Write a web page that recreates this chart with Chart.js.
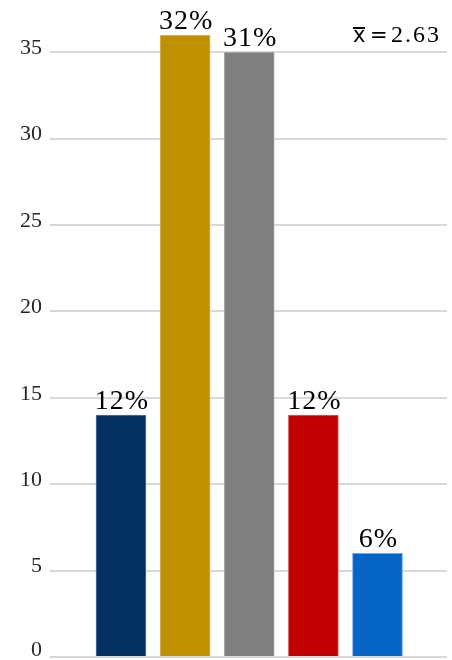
<!DOCTYPE html>
<html>
<head>
<meta charset="utf-8">
<script src="https://cdn.jsdelivr.net/npm/chart.js@4"></script>
<style>
  html, body { margin: 0; padding: 0; background: #fff; }
  canvas { display: block; }
</style>
</head>
<body>
<canvas id="ratingChart" width="452" height="660"></canvas>
<script>
// rating scale 1..5, response counts and share labels
const ratings = [1, 2, 3, 4, 5];
const counts = [14, 36, 35, 14, 6];
const shareLabels = ["12%", "32%", "31%", "12%", "6%"];
const barColors = ["#03305F", "#BF9000", "#7F7F7F", "#C00000", "#0565C4"];
const barEdges = ["#5a7aa0", "#d9b860", "#a8a8a8", "#e06060", "#6aa6e6"];
const meanText = "2.63";

const serif = "'Liberation Serif', 'DejaVu Serif', serif";

// y tick labels sit a little above their grid line, the 0 one kept inside the canvas
const tickLabelPlugin = {
  id: "tickLabels",
  afterDraw(chart) {
    const ctx = chart.ctx;
    const y = chart.scales.y;
    ctx.save();
    ctx.fillStyle = "#262626";
    ctx.font = "22px " + serif;
    ctx.textAlign = "right";
    ctx.textBaseline = "middle";
    y.ticks.forEach((t) => {
      const py = Math.min(y.getPixelForValue(t.value) - 4, 650);
      ctx.fillText(String(t.value), y.right - 8, py);
    });
    ctx.restore();
  },
};

// percent labels above each bar + mean in the top right corner
const labelPlugin = {
  id: "barLabels",
  afterDatasetsDraw(chart) {
    const ctx = chart.ctx;
    const meta = chart.getDatasetMeta(0);
    ctx.save();
    ctx.fillStyle = "#000";
    ctx.font = "28px " + serif;
    ctx.letterSpacing = "1px";
    ctx.textAlign = "center";
    ctx.textBaseline = "alphabetic";
    meta.data.forEach((bar, i) => {
      ctx.fillText(shareLabels[i], bar.x + 1, bar.y - 6);
    });

    // x̄ = 2.63 (bar over the x drawn by hand)
    ctx.textAlign = "left";
    ctx.letterSpacing = "0px";
    ctx.font = "21px 'DejaVu Sans', sans-serif";
    ctx.fillText("x", 353, 42);
    ctx.fillRect(353, 27, 12, 2);
    ctx.fillText("=", 370, 42);
    ctx.font = "24px " + serif;
    ctx.letterSpacing = "2px";
    ctx.fillText(meanText, 391, 42);
    ctx.restore();
  },
};

const ratingChart = new Chart(document.getElementById("ratingChart"), {
  type: "bar",
  data: {
    datasets: [
      {
        data: ratings.map((r, i) => ({ x: r, y: counts[i] })),
        backgroundColor: barColors,
        borderColor: barEdges,
        borderWidth: 1,
        barThickness: 50,
      },
    ],
  },
  options: {
    responsive: false,
    animation: false,
    layout: { padding: { top: 35, bottom: 3, right: 5 } },
    plugins: {
      legend: { display: false },
      tooltip: { enabled: false },
    },
    scales: {
      x: {
        type: "linear",
        display: false,
        offset: false,
        min: -0.107,
        max: 6.084,
      },
      y: {
        min: 0,
        max: 36,
        border: { display: false },
        grid: { color: "#d9d9d9", lineWidth: 2, drawTicks: false },
        ticks: {
          stepSize: 5,
          includeBounds: false,
          display: false,
        },
        afterFit(scale) {
          scale.width = 50;
          scale.paddingTop = 0;
          scale.paddingBottom = 0;
        },
      },
    },
  },
  plugins: [labelPlugin, tickLabelPlugin],
});
</script>
</body>
</html>
